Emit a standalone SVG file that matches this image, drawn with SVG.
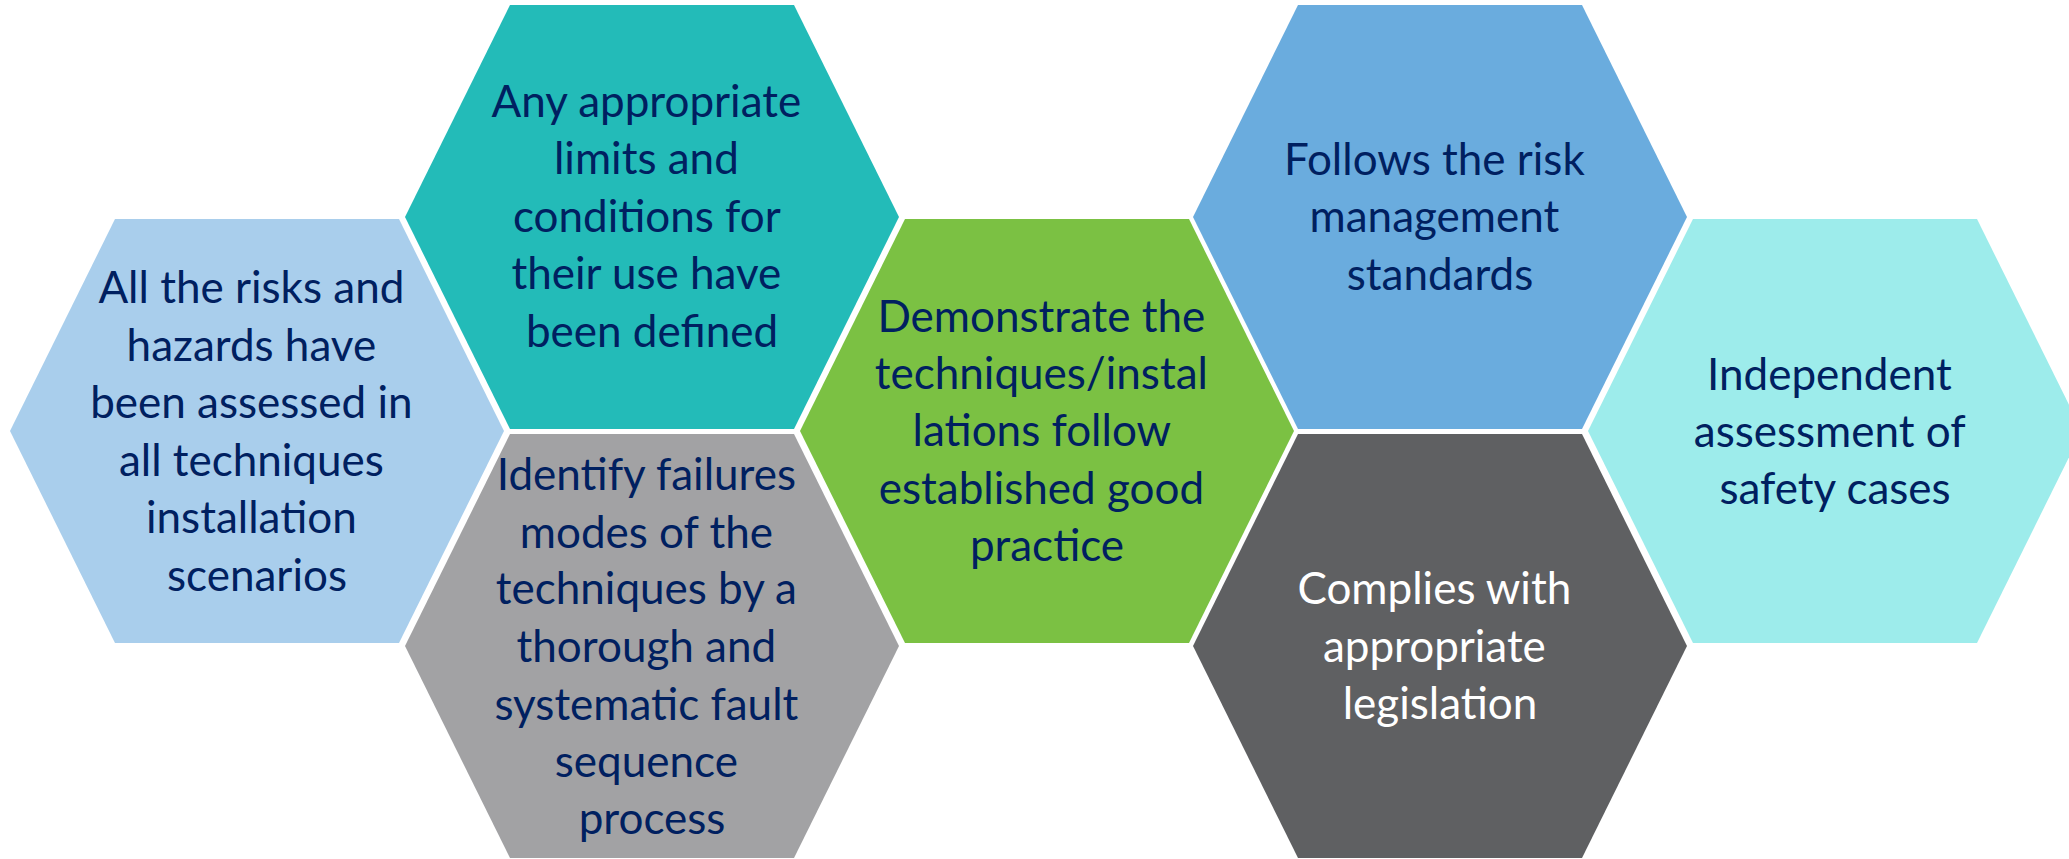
<svg xmlns="http://www.w3.org/2000/svg" xmlns:xlink="http://www.w3.org/1999/xlink" width="2069" height="859" viewBox="0 0 2069 859">
  <defs>
    <!-- flat-topped hexagon, 494 wide x 424 high, origin at left vertex column / top edge -->
    <path id="hex" d="M105,0 L389,0 L494,212 L389,424 L105,424 L0,212 Z"/>
    <style>
      .lbl { font-family: Lato, "Liberation Sans", sans-serif; font-size: 44px; fill: #002060; text-anchor: middle; }
      .lbl.light { fill: #FFFFFF; }
      .c1 { fill: #A9CEEC; }
      .c2 { fill: #23BBB8; }
      .c3 { fill: #A2A2A4; }
      .c4 { fill: #7BC143; }
      .c5 { fill: #6AACDE; }
      .c6 { fill: #5F6062; }
      .c7 { fill: #9DECEB; }
    </style>
  </defs>
  <rect width="2069" height="859" fill="#FFFFFF"/>

  <g id="node-risks" transform="translate(10,219)">
    <use xlink:href="#hex" class="c1"/>
    <text class="lbl">
      <tspan x="247" y="84">All the risks and</tspan>
      <tspan x="247" y="142">hazards have</tspan>
      <tspan x="247" y="199">been assessed in</tspan>
      <tspan x="247" y="257">all techniques</tspan>
      <tspan x="247" y="314">installation</tspan>
      <tspan x="247" y="372">scenarios</tspan>
    </text>
  </g>

  <g id="node-limits" transform="translate(405,5)">
    <use xlink:href="#hex" class="c2"/>
    <text class="lbl">
      <tspan x="247" y="112">Any appropriate</tspan>
      <tspan x="247" y="169">limits and</tspan>
      <tspan x="247" y="227">conditions for</tspan>
      <tspan x="247" y="284">their use have</tspan>
      <tspan x="247" y="342">been defined</tspan>
    </text>
  </g>

  <g id="node-failures" transform="translate(405,434)">
    <use xlink:href="#hex" class="c3"/>
    <text class="lbl">
      <tspan x="247" y="56">Identify failures</tspan>
      <tspan x="247" y="114">modes of the</tspan>
      <tspan x="247" y="170">techniques by a</tspan>
      <tspan x="247" y="228">thorough and</tspan>
      <tspan x="247" y="286">systematic fault</tspan>
      <tspan x="247" y="343">sequence</tspan>
      <tspan x="247" y="400">process</tspan>
    </text>
  </g>

  <g id="node-practice" transform="translate(800,219)">
    <use xlink:href="#hex" class="c4"/>
    <text class="lbl">
      <tspan x="247" y="113">Demonstrate the</tspan>
      <tspan x="247" y="170">techniques/instal</tspan>
      <tspan x="247" y="227">lations follow</tspan>
      <tspan x="247" y="285">established good</tspan>
      <tspan x="247" y="342">practice</tspan>
    </text>
  </g>

  <g id="node-standards" transform="translate(1193,5)">
    <use xlink:href="#hex" class="c5"/>
    <text class="lbl">
      <tspan x="247" y="170">Follows the risk</tspan>
      <tspan x="247" y="227">management</tspan>
      <tspan x="247" y="285">standards</tspan>
    </text>
  </g>

  <g id="node-legislation" transform="translate(1193,434)">
    <use xlink:href="#hex" class="c6"/>
    <text class="lbl light">
      <tspan x="247" y="170">Complies with</tspan>
      <tspan x="247" y="228">appropriate</tspan>
      <tspan x="247" y="285">legislation</tspan>
    </text>
  </g>

  <g id="node-assessment" transform="translate(1588,219)">
    <use xlink:href="#hex" class="c7"/>
    <text class="lbl">
      <tspan x="247" y="171">Independent</tspan>
      <tspan x="247" y="228">assessment of</tspan>
      <tspan x="247" y="285">safety cases</tspan>
    </text>
  </g>

  <g id="connectors"/>
</svg>
